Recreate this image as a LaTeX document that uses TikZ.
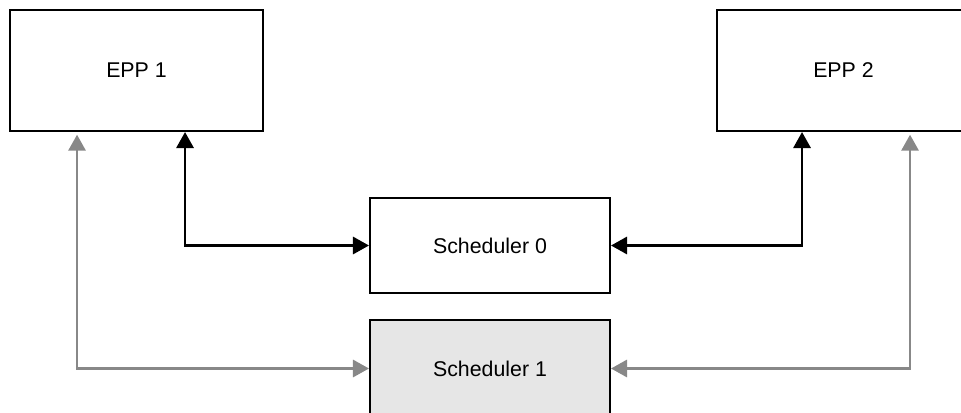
\documentclass[tikz,border=0pt]{standalone}
\usepackage{fontspec}
\setmainfont{Liberation Sans}
\usetikzlibrary{arrows.meta}
\tikzset{>={Triangle[length=12pt,width=13pt]}}
\tikzset{block/.style={draw, line width=1.6pt, minimum width=189.75pt, minimum height=90.75pt, inner sep=0pt, font=\fontsize{16pt}{19pt}\selectfont}}
\tikzset{sched/.style={block, minimum width=180pt, minimum height=71.25pt}}
\definecolor{linkgray}{HTML}{888888}
\definecolor{schedfill}{HTML}{E6E6E6}

\begin{document}
\begin{tikzpicture}[x=0.75pt, y=0.75pt]
\useasboundingbox (0,0) rectangle (961,412);
\node[block] (epp1) at (136.5,341.5) {EPP 1};
\node[block] (epp2) at (843.5,341.5) {EPP 2};
\node[sched] (sched0) at (490,166.5) {Scheduler 0};
\node[sched, fill=schedfill, minimum height=72.75pt] (sched1) at (490,43.5) {Scheduler 1};
% black links
\draw[<->, line width=1.6pt] ([xshift=36.4pt]epp1.south) |- (sched0.west);
\draw[<->, line width=1.6pt] ([xshift=-31.1pt]epp2.south) |- (sched0.east);
% gray links
\draw[<->, line width=1.6pt, linkgray, shorten <=2pt] ([xshift=-44.6pt]epp1.south) |- (sched1.west);
\draw[<->, line width=1.6pt, linkgray, shorten <=2pt] ([xshift=49.9pt]epp2.south) |- (sched1.east);
\end{tikzpicture}
\end{document}
